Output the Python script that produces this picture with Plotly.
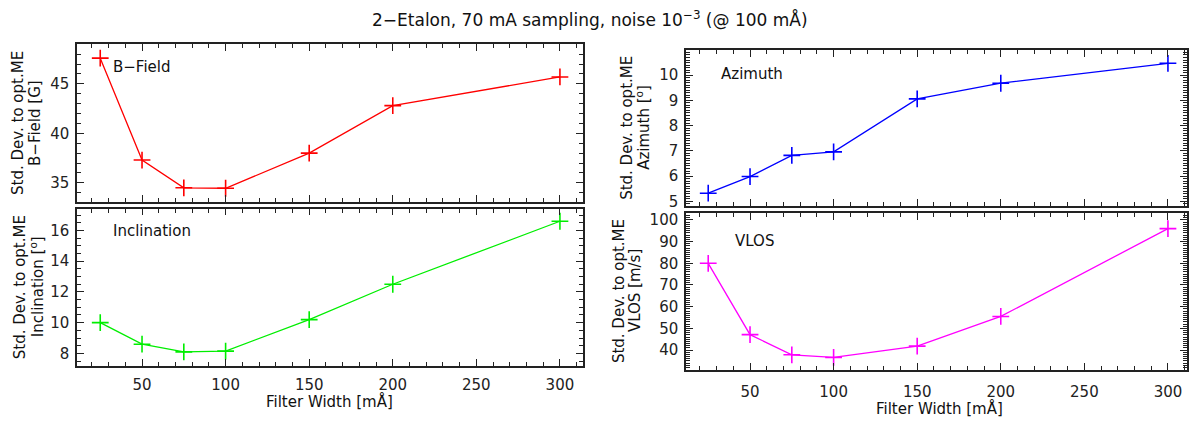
import plotly.graph_objects as go

# ---- data ----
filter_width = [25, 50, 75, 100, 150, 200, 300]
bfield = [47.6, 37.3, 34.5, 34.45, 38.0, 42.8, 45.7]
inclination = [10.0, 8.6, 8.1, 8.15, 10.2, 12.5, 16.6]
azimuth = [5.32, 5.98, 6.82, 6.96, 9.06, 9.68, 10.47]
vlos = [80.0, 47.1, 37.8, 36.6, 41.8, 55.5, 96.0]

panel_labels = ["B−Field", "Inclination", "Azimuth", "VLOS"]
unit_labels = ["B−Field [G]", "Inclination [<sup>o</sup>]", "Azimuth [<sup>o</sup>]", "VLOS [m/s]"]
title_text = "2−Etalon, 70 mA sampling, noise 10<sup>−3</sup> (@ 100 mÅ)"
xtitle = "Filter Width [mÅ]"

W, H = 1191, 421
FONT = "DejaVu Sans"
FRAME = "#222222"


def px(x):
    return x / W


def py(y):
    return 1 - y / H


fig = go.Figure()

# panel geometry (pixels): left, right, top, bottom
panels = [
    dict(box=(77, 583, 43, 203), xr=[11.1, 313.8], yr=[33.1, 49.0], ymaj=5, ymin=1, data=bfield, color="#ff0000", xlabels=False, xstand=5),
    dict(box=(77, 583, 210, 370), xr=[11.1, 313.8], yr=[7.19, 17.43], ymaj=2, ymin=0.5, data=inclination, color="#00ee00", xlabels=True, xstand=4),
    dict(box=(686, 1187, 49, 207), xr=[11.7, 311.4], yr=[4.83, 10.99], ymaj=1, ymin=0.1, data=azimuth, color="#0000ff", xlabels=False, xstand=9),
    dict(box=(686, 1187, 215, 374), xr=[11.7, 311.4], yr=[30.9, 103.0], ymaj=10, ymin=1, data=vlos, color="#ff00ff", xlabels=True, xstand=7),
]

label_pos = [(111, 66), (111, 233), (719, 73), (733, 243)]
ytitle_pos = [((18, 35), 123), ((20, 37), 290), ((627, 643), 128), ((619, 635), 294)]

layout_axes = {}
for i, p in enumerate(panels):
    n = i + 1
    m = i + 5  # overlay axes carrying the minor ticks
    xa = "xaxis" if n == 1 else f"xaxis{n}"
    ya = "yaxis" if n == 1 else f"yaxis{n}"
    xref = "x" if n == 1 else f"x{n}"
    yref = "y" if n == 1 else f"y{n}"
    l, r, t, b = p["box"]
    common = dict(
        showline=True, linecolor=FRAME, linewidth=1.5, mirror="allticks",
        ticks="inside", ticklen=7, tickwidth=1, tickcolor=FRAME,
        showgrid=False, zeroline=False,
        tickfont=dict(family=FONT, size=15, color="#222222"),
    )
    layout_axes[xa] = dict(
        common, domain=[px(l), px(r)], range=p["xr"], anchor=yref,
        tick0=0, dtick=50, showticklabels=p["xlabels"], ticklabelstandoff=p["xstand"],
    )
    layout_axes[ya] = dict(
        common, domain=[py(b), py(t)], range=p["yr"], anchor=xref,
        tick0=0, dtick=p["ymaj"], ticklabelstandoff=3,
    )
    minor_common = dict(
        showline=False, mirror="allticks", ticks="inside", ticklen=4, tickwidth=1,
        tickcolor=FRAME, showgrid=False, zeroline=False, showticklabels=False,
    )
    layout_axes[f"xaxis{m}"] = dict(
        minor_common, overlaying=xref, anchor=f"y{m}", range=p["xr"], tick0=0, dtick=10,
        domain=[px(l), px(r)],
    )
    layout_axes[f"yaxis{m}"] = dict(
        minor_common, overlaying=yref, anchor=f"x{m}", range=p["yr"], tick0=0, dtick=p["ymin"],
        domain=[py(b), py(t)],
    )
    # invisible copy of the series so the minor-tick overlay axes get drawn
    fig.add_trace(go.Scatter(
        x=filter_width, y=p["data"], xaxis=f"x{m}", yaxis=f"y{m}", mode="lines",
        line=dict(color="rgba(0,0,0,0)", width=0), hoverinfo="skip", showlegend=False,
    ))
    fig.add_trace(go.Scatter(
        x=filter_width, y=p["data"], xaxis=xref, yaxis=yref, mode="lines+markers",
        line=dict(color=p["color"], width=1.3),
        marker=dict(symbol="cross-thin", size=12, line=dict(color=p["color"], width=1.6)),
        showlegend=False,
    ))

annotations = []
for i, (lx, ly) in enumerate(label_pos):
    annotations.append(dict(
        text=panel_labels[i], x=px(lx), y=py(ly), xref="paper", yref="paper",
        xanchor="left", yanchor="middle", showarrow=False,
        font=dict(family=FONT, size=15, color="#111111"),
    ))
for i, ((x1, x2), yc) in enumerate(ytitle_pos):
    annotations.append(dict(
        text="Std. Dev. to opt.ME", x=px(x1), y=py(yc), xref="paper", yref="paper",
        xanchor="center", yanchor="middle", textangle=-90, showarrow=False,
        font=dict(family=FONT, size=15, color="#111111"),
    ))
    annotations.append(dict(
        text=unit_labels[i], x=px(x2), y=py(yc), xref="paper", yref="paper",
        xanchor="center", yanchor="middle", textangle=-90, showarrow=False,
        font=dict(family=FONT, size=15, color="#111111"),
    ))
for xc, yc in [(329, 406), (939, 413)]:
    annotations.append(dict(
        text=xtitle, x=px(xc), y=py(yc), xref="paper", yref="paper",
        xanchor="center", yanchor="middle", showarrow=False,
        font=dict(family=FONT, size=15, color="#111111"),
    ))
annotations.append(dict(
    text=title_text, x=px(590), y=py(17), xref="paper", yref="paper",
    xanchor="center", yanchor="middle", showarrow=False,
    font=dict(family=FONT, size=17, color="#111111"),
))

fig.update_layout(
    width=W, height=H, margin=dict(l=0, r=0, t=0, b=0),
    paper_bgcolor="white", plot_bgcolor="white",
    annotations=annotations, **layout_axes,
)

fig.write_html(
    "out.html",
    config={"displayModeBar": False},
    post_script="document.body.style.margin='0px';document.body.style.overflow='hidden';",
)
